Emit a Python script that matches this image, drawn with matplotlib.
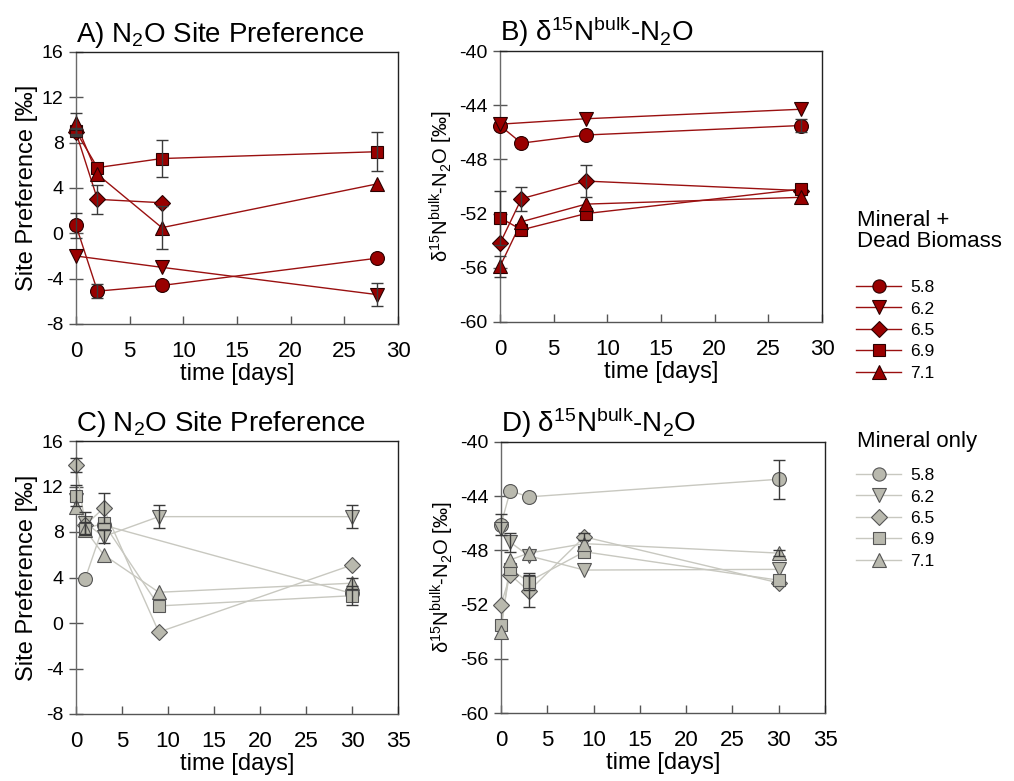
''' Site preference and bulk d15N of N2O over time, for the mineral + dead biomass
incubations (top row) and the mineral only incubations (bottom row). '''

import numpy as np
import matplotlib
matplotlib.use("Agg")
import matplotlib.pyplot as plt
from matplotlib.lines import Line2D

## Set global matplotlib parameters
plt.rcParams["font.family"] = ["Liberation Sans", "DejaVu Sans"]
plt.rcParams["mathtext.fontset"] = "custom"
plt.rcParams["mathtext.rm"] = "Liberation Sans"
plt.rcParams["mathtext.it"] = "Liberation Sans:italic"
plt.rcParams["mathtext.bf"] = "Liberation Sans:bold"
plt.rcParams["axes.unicode_minus"] = False
plt.rcParams["axes.linewidth"] = 1.0

nan = np.nan

## pH levels (legend labels)
ph_labels = ["5.8", "6.2", "6.5", "6.9", "7.1"]
markers = ["o", "v", "D", "s", "^"]
msizes = [10, 10, 8.5, 9, 10]

## ---- Mineral + Dead Biomass ----
time_dead = [0, 2, 8, 28]

sp_dead_58 = [0.7, -5.1, -4.6, -2.2]
sp_dead_62 = [-2.0, nan, -3.0, -5.4]
sp_dead_65 = [8.9, 3.0, 2.7, nan]
sp_dead_69 = [9.0, 5.8, 6.6, 7.2]
sp_dead_71 = [9.7, 5.2, 0.5, 4.35]
sp_dead_58_err = [1.1, 0.6, 0, 0]
sp_dead_62_err = [0, 0, 0, 1.0]
sp_dead_65_err = [0.3, 1.3, 0, 0]
sp_dead_69_err = [0.3, 0, 1.6, 1.7]
sp_dead_71_err = [0.9, 0, 1.9, 0]

bulk_dead_58 = [-45.5, -46.8, -46.2, -45.5]
bulk_dead_62 = [-45.4, nan, -45.0, -44.3]
bulk_dead_65 = [-54.2, -50.9, -49.6, -50.3]
bulk_dead_69 = [-52.3, -53.2, -52.0, -50.2]
bulk_dead_71 = [-55.9, -52.6, -51.3, -50.8]
bulk_dead_58_err = [0, 0, 0, 0.5]
bulk_dead_62_err = [0, 0, 0, 0]
bulk_dead_65_err = [0, 0.9, 1.2, 0]
bulk_dead_69_err = [2.0, 0, 0, 0]
bulk_dead_71_err = [0.75, 0, 0, 0]

## ---- Mineral only ----
time_min = [0, 1, 3, 9, 30]

sp_min_58 = [nan, 3.9, 8.6, nan, 2.6]
sp_min_62 = [10.8, 8.8, 7.6, 9.35, 9.35]
sp_min_65 = [13.9, 8.6, 10.1, -0.8, 5.1]
sp_min_69 = [11.2, 8.3, 8.76, 1.5, 2.4]
sp_min_71 = [10.2, 8.2, 6.0, 2.7, 3.5]
sp_min_58_err = [0, 0, 0, 0, 0]
sp_min_62_err = [0, 1.0, 0.6, 1.0, 1.0]
sp_min_65_err = [0.6, 0, 1.3, 0, 0]
sp_min_69_err = [0.9, 0.6, 0, 0, 0.85]
sp_min_71_err = [0, 0, 0, 0, 0.5]

bulk_min_58 = [-46.1, -43.6, -44.05, nan, -42.75]
bulk_min_62 = [-46.4, -47.4, -48.4, -49.45, -49.4]
bulk_min_65 = [-52.0, -49.8, -51.0, -47.0, -50.4]
bulk_min_69 = [-53.5, -49.4, -50.3, -48.1, -50.2]
bulk_min_71 = [-54.0, -48.7, -48.2, -47.5, -48.2]
bulk_min_58_err = [0.8, 0, 0, 0, 1.45]
bulk_min_62_err = [0, 0.7, 0, 0, 0]
bulk_min_65_err = [0, 0, 1.2, 0.25, 0]
bulk_min_69_err = [0, 0, 0.6, 0, 0]
bulk_min_71_err = [0, 0, 0, 0, 0.2]

## colours
red_face = "#990000"
red_line = "#9a1010"
red_edge = "#2a0000"
grey_face = "#b9b9ae"
grey_line = "#c8c8c0"
grey_edge = "#555555"
err_col = "#3a3a3a"


def PlotSeries(ax, t, vals, errs, marker, ms, face, edge, line):

	"""Draw one series: connecting line, markers and error bars.
	Missing points (nan) are skipped so the line joins the neighbours."""

	t = np.asarray(t, dtype=float)
	vals = np.asarray(vals, dtype=float)
	errs = np.asarray(errs, dtype=float)
	ok = ~np.isnan(vals)

	ax.plot(t[ok], vals[ok], linestyle="-", color=line, linewidth=1.0, zorder=2, clip_on=False)
	ax.plot(t[ok], vals[ok], marker=marker, linestyle="None", markersize=ms,
			markerfacecolor=face, markeredgecolor=edge, markeredgewidth=0.8, zorder=3,
			clip_on=False)

	## only draw error bars where there is one
	has = ok & (errs > 0)
	if has.any():
		bars = ax.errorbar(t[has], vals[has], yerr=errs[has], fmt="none", ecolor=err_col,
						   elinewidth=1.0, capsize=4.5, capthick=1.0, zorder=4)
		for art in bars.get_children():
			art.set_clip_on(False)


def StyleAxes(ax, xmax, ylim, yticks, ylabel, title, ylabel_size):

	"""Axis limits, ticks and labels in the style of the original figure."""

	ax.set_xlim(0, xmax)
	ax.set_ylim(*ylim)
	ax.set_xticks(np.arange(0, xmax + 1, 5))
	ax.set_yticks(yticks)
	ax.tick_params(axis="x", direction="in", length=6, width=1, pad=12,
				   labelsize=16, color="#555555")
	ax.tick_params(axis="y", direction="inout", length=10, width=1, pad=4,
				   labelsize=14, color="#555555")
	ax.spines["left"].set_color("#6a6a6a")
	ax.spines["bottom"].set_color("#555555")
	ax.spines["top"].set_color("#222222")
	ax.spines["right"].set_color("#222222")
	ax.set_xlabel("time [days]", fontsize=17, labelpad=1)
	ax.set_ylabel(ylabel, fontsize=ylabel_size, labelpad=3)
	ax.set_title(title, loc="left", fontsize=20, pad=7)


if __name__ == "__main__":

	fig = plt.figure(figsize=(10.14, 7.81), dpi=100)
	W, H = 1014.0, 781.0

	def Box(left, top, right, bottom):
		return [left / W, 1 - bottom / H, (right - left) / W, (bottom - top) / H]

	axA = fig.add_axes(Box(76, 52, 398, 324))
	axB = fig.add_axes(Box(500, 51, 822, 322))
	axC = fig.add_axes(Box(76, 441, 398, 714))
	axD = fig.add_axes(Box(501, 442, 825, 713))

	sp_dead = [sp_dead_58, sp_dead_62, sp_dead_65, sp_dead_69, sp_dead_71]
	sp_dead_err = [sp_dead_58_err, sp_dead_62_err, sp_dead_65_err, sp_dead_69_err, sp_dead_71_err]
	bulk_dead = [bulk_dead_58, bulk_dead_62, bulk_dead_65, bulk_dead_69, bulk_dead_71]
	bulk_dead_err = [bulk_dead_58_err, bulk_dead_62_err, bulk_dead_65_err, bulk_dead_69_err, bulk_dead_71_err]
	sp_min = [sp_min_58, sp_min_62, sp_min_65, sp_min_69, sp_min_71]
	sp_min_err = [sp_min_58_err, sp_min_62_err, sp_min_65_err, sp_min_69_err, sp_min_71_err]
	bulk_min = [bulk_min_58, bulk_min_62, bulk_min_65, bulk_min_69, bulk_min_71]
	bulk_min_err = [bulk_min_58_err, bulk_min_62_err, bulk_min_65_err, bulk_min_69_err, bulk_min_71_err]

	for i in range(5):
		PlotSeries(axA, time_dead, sp_dead[i], sp_dead_err[i], markers[i], msizes[i], red_face, red_edge, red_line)
		PlotSeries(axB, time_dead, bulk_dead[i], bulk_dead_err[i], markers[i], msizes[i], red_face, red_edge, red_line)
		PlotSeries(axC, time_min, sp_min[i], sp_min_err[i], markers[i], msizes[i], grey_face, grey_edge, grey_line)
		PlotSeries(axD, time_min, bulk_min[i], bulk_min_err[i], markers[i], msizes[i], grey_face, grey_edge, grey_line)

	sp_label = "Site Preference [‰]"
	bulk_label = r"δ$^{15}$N$^{\mathrm{bulk}}$-N$_2$O [‰]"

	StyleAxes(axA, 30, (-8, 16), np.arange(-8, 17, 4), sp_label, r"A) N$_2$O Site Preference", 17)
	StyleAxes(axB, 30, (-60, -40), np.arange(-60, -39, 4), bulk_label, r"B) δ$^{15}$N$^{\mathrm{bulk}}$-N$_2$O", 14.5)
	StyleAxes(axC, 35, (-8, 16), np.arange(-8, 17, 4), sp_label, r"C) N$_2$O Site Preference", 17)
	StyleAxes(axD, 35, (-60, -40), np.arange(-60, -39, 4), bulk_label, r"D) δ$^{15}$N$^{\mathrm{bulk}}$-N$_2$O", 14.5)

	###### Legends ######
	red_handles = [Line2D([], [], color=red_line, linewidth=1.0, marker=m, markersize=ms * 0.95,
						  markerfacecolor=red_face, markeredgecolor=red_edge, markeredgewidth=0.8)
				   for m, ms in zip(markers, msizes)]
	grey_handles = [Line2D([], [], color=grey_line, linewidth=1.0, marker=m, markersize=ms * 0.95,
						   markerfacecolor=grey_face, markeredgecolor=grey_edge, markeredgewidth=0.8)
					for m, ms in zip(markers, msizes)]

	fig.text(857 / W, 1 - 210 / H, "Mineral +\nDead Biomass", fontsize=16, va="top", ha="left",
			 linespacing=1.0)
	fig.legend(red_handles, ph_labels, loc="upper left", bbox_to_anchor=(856 / W, 1 - 280 / H),
			   frameon=False, fontsize=12.5, handlelength=2.6, handletextpad=0.5,
			   labelspacing=0.36, borderpad=0, borderaxespad=0)

	fig.text(857 / W, 1 - 442 / H, "Mineral only", fontsize=16, va="center", ha="left")
	fig.legend(grey_handles, ph_labels, loc="upper left", bbox_to_anchor=(856 / W, 1 - 468 / H),
			   frameon=False, fontsize=12.5, handlelength=2.6, handletextpad=0.5,
			   labelspacing=0.36, borderpad=0, borderaxespad=0)

	plt.savefig("out.png", dpi=100)
